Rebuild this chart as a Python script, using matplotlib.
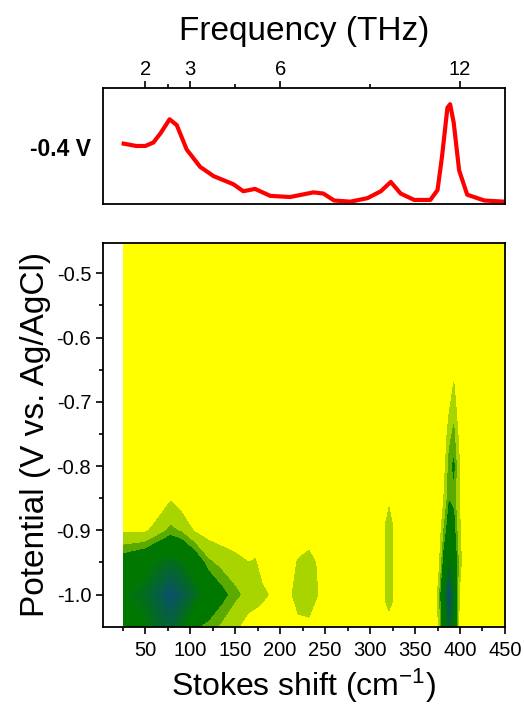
import numpy as np
import matplotlib
matplotlib.use('Agg')
import matplotlib.pyplot as plt
from matplotlib.colors import LinearSegmentedColormap

plt.rcParams['font.family'] = ['Liberation Sans', 'DejaVu Sans']
plt.rcParams['mathtext.fontset'] = 'custom'
plt.rcParams['mathtext.rm'] = 'Liberation Sans'
plt.rcParams['mathtext.it'] = 'Liberation Sans:italic'
plt.rcParams['mathtext.bf'] = 'Liberation Sans:bold'

# Spectrum at -0.4 V (normalised intensity)
spec_shift = [26, 40, 50, 59, 67, 77, 85, 96, 111, 126, 148, 159, 172, 189, 211, 237, 248,
              260, 278, 297, 312, 323, 334, 349, 367, 375, 380, 386, 389, 393, 399, 408, 427, 449]
spec_int = [0.52, 0.50, 0.50, 0.53, 0.61, 0.73, 0.68, 0.47, 0.32, 0.24, 0.17, 0.11, 0.13, 0.07,
            0.06, 0.10, 0.09, 0.03, 0.02, 0.05, 0.11, 0.19, 0.09, 0.035, 0.035, 0.12, 0.41,
            0.83, 0.86, 0.70, 0.29, 0.08, 0.03, 0.02]

# Potential-dependent map (normalised intensity)
map_shift = [26, 50, 65, 78, 90, 105, 120, 135, 150, 165, 172, 180, 195, 203, 210, 220, 232,
             242, 250, 300, 313, 317, 321, 325, 330, 370, 376, 382, 388, 393, 399, 405, 450]
map_potential = [-0.45, -0.6, -0.65, -0.7, -0.75, -0.8, -0.85, -0.9, -0.95, -1.0, -1.05]
map_rows = [
    [0] * 33,
    [0] * 33,
    [0, 0, 0, 0, 0, 0, 0, 0, 0, 0, 0, 0, 0, 0, 0, 0, 0, 0, 0, 0, 0, 0, 0, 0, 0, 0, 0, 0, 0.05, 0.15, 0, 0, 0],
    [0, 0, 0, 0, 0, 0, 0, 0, 0, 0, 0, 0, 0, 0, 0, 0, 0, 0, 0, 0, 0, 0, 0, 0, 0, 0, 0, 0, 0.15, 0.28, 0.05, 0, 0],
    [0, 0, 0, 0, 0, 0, 0, 0, 0, 0, 0, 0, 0, 0, 0, 0, 0, 0, 0, 0, 0, 0, 0, 0, 0, 0, 0, 0.05, 0.30, 0.38, 0.15, 0, 0],
    [0, 0, 0, 0.05, 0, 0, 0, 0, 0, 0, 0, 0, 0, 0, 0, 0, 0, 0, 0, 0, 0, 0, 0, 0, 0, 0, 0, 0.12, 0.40, 0.47, 0.22, 0, 0],
    [0.02, 0.05, 0.08, 0.18, 0.10, 0.05, 0.03, 0, 0, 0, 0, 0, 0, 0, 0, 0, 0, 0, 0, 0, 0, 0.10, 0.18, 0.10, 0, 0, 0, 0.20, 0.44, 0.42, 0.20, 0, 0],
    [0.18, 0.17, 0.28, 0.38, 0.33, 0.18, 0.12, 0.10, 0.06, 0.04, 0.04, 0.02, 0, 0, 0, 0.05, 0.10, 0.03, 0, 0, 0, 0.22, 0.25, 0.22, 0, 0, 0.05, 0.35, 0.55, 0.50, 0.25, 0.05, 0],
    [0.55, 0.65, 0.75, 0.80, 0.75, 0.60, 0.38, 0.30, 0.26, 0.20, 0.22, 0.12, 0.03, 0, 0.10, 0.22, 0.26, 0.18, 0.03, 0, 0, 0.22, 0.26, 0.22, 0, 0, 0.12, 0.50, 0.75, 0.62, 0.30, 0.05, 0],
    [0.70, 0.80, 0.90, 1.00, 0.92, 0.80, 0.65, 0.50, 0.38, 0.30, 0.28, 0.24, 0.15, 0.12, 0.17, 0.26, 0.27, 0.20, 0.05, 0, 0, 0.22, 0.25, 0.22, 0, 0.05, 0.25, 0.70, 1.00, 0.75, 0.20, 0.05, 0],
    [0.60, 0.70, 0.80, 0.85, 0.75, 0.47, 0.40, 0.32, 0.23, 0.12, 0.10, 0.08, 0.03, 0, 0.05, 0.16, 0.17, 0.10, 0, 0, 0, 0.12, 0.15, 0.12, 0, 0, 0.20, 0.60, 0.85, 0.65, 0.18, 0, 0],
]

thz_pos = [50, 100, 200, 400]
thz_labels = ['2', '3', '6', '12']
thz_minor = [75, 150, 300]


def style_axes(ax):
    for s in ax.spines.values():
        s.set_linewidth(1.3)
    ax.tick_params(which='both', direction='out', width=1.2, labelsize=14.5)
    ax.tick_params(which='major', length=5)
    ax.tick_params(which='minor', length=3)


def draw_spectrum(fig):
    ax = fig.add_axes([0.1966, 0.7127, 0.7671, 0.1634])
    ax.plot(spec_shift, spec_int, color='red', lw=3)
    ax.set_xlim(3, 450)
    ax.set_ylim(0, 1)
    style_axes(ax)
    ax.set_yticks([])
    ax.xaxis.tick_top()
    ax.tick_params(axis='x', which='major', pad=1.5)
    ax.set_xticks(thz_pos)
    ax.set_xticklabels(thz_labels)
    ax.set_xticks(thz_minor, minor=True)
    ax.xaxis.set_label_position('top')
    ax.set_xlabel('Frequency (THz)', fontsize=24, labelpad=14)
    fig.text(0.115, 0.79, '-0.4 V', fontsize=16.5, fontweight='bold', ha='center', va='center')


def draw_map(fig):
    ax = fig.add_axes([0.1966, 0.1173, 0.7671, 0.5404])
    z = np.array(map_rows, dtype=float)
    dark = LinearSegmentedColormap.from_list('dk', [(0, '#007800'), (0.45, '#007800'), (1, '#0a4f6c')])
    top_levels = list(np.linspace(0.45, 1.01, 30))
    levels = [-0.1, 0.2, 0.35] + top_levels
    colors = ['#ffff00', '#a8d400', '#5aaa00']
    for a, b in zip(top_levels[:-1], top_levels[1:]):
        colors.append(dark(((a + b) / 2 - 0.45) / 0.56))
    ax.contourf(map_shift, map_potential, z, levels=levels, colors=colors, antialiased=False)
    ax.set_xlim(3, 450)
    ax.set_ylim(-1.05, -0.453)
    style_axes(ax)
    ax.tick_params(axis='x', which='major', pad=5)
    ax.set_xticks(np.arange(50, 451, 50))
    ax.set_xticks(np.arange(25, 451, 50), minor=True)
    ax.set_yticks([-0.5, -0.6, -0.7, -0.8, -0.9, -1.0])
    ax.set_yticklabels(['-0.5', '-0.6', '-0.7', '-0.8', '-0.9', '-1.0'])
    ax.set_yticks([-0.55, -0.65, -0.75, -0.85, -0.95], minor=True)
    ax.set_xlabel('Stokes shift (cm$^{-1}$)', fontsize=23, labelpad=5)
    ax.set_ylabel('Potential (V vs. Ag/AgCl)', fontsize=24, labelpad=4)


def main():
    fig = plt.figure(figsize=(5.24, 7.10), dpi=100)
    draw_spectrum(fig)
    draw_map(fig)
    fig.savefig('out.png', dpi=100)


if __name__ == "__main__":
    main()
